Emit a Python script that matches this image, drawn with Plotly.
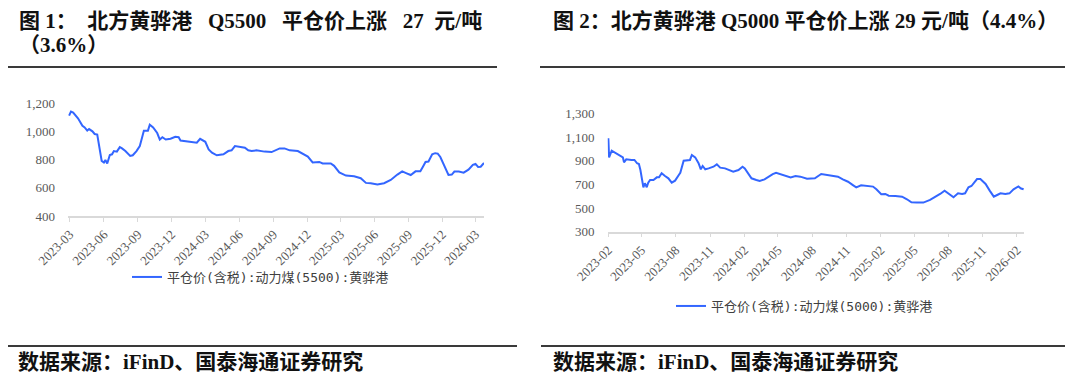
import plotly.graph_objects as go

# ---------------- data ----------------
left_dates = [
    "2023-02-27", "2023-03-04", "2023-03-10", "2023-03-23", "2023-04-04", "2023-04-10",
    "2023-04-17", "2023-04-22", "2023-05-01", "2023-05-07", "2023-05-14", "2023-05-19",
    "2023-05-23", "2023-05-26", "2023-06-01", "2023-06-05", "2023-06-10", "2023-06-17",
    "2023-06-23", "2023-06-28", "2023-07-06", "2023-07-14", "2023-07-20", "2023-07-29",
    "2023-08-11", "2023-08-18", "2023-08-28", "2023-09-06", "2023-09-12", "2023-09-17",
    "2023-09-28", "2023-10-03", "2023-10-12", "2023-10-23", "2023-10-30", "2023-11-06",
    "2023-11-15", "2023-11-28", "2023-12-11", "2023-12-20", "2023-12-25", "2024-01-07",
    "2024-01-25", "2024-02-07", "2024-02-16", "2024-03-01", "2024-03-10", "2024-03-19",
    "2024-04-01", "2024-04-19", "2024-05-02", "2024-05-11", "2024-05-20", "2024-06-07",
    "2024-06-16", "2024-06-25", "2024-07-04", "2024-07-17", "2024-07-26", "2024-08-08",
    "2024-08-27", "2024-09-18", "2024-10-01", "2024-10-15", "2024-11-06", "2024-11-19",
    "2024-12-03", "2024-12-16", "2025-01-03", "2025-01-12", "2025-02-03", "2025-02-12",
    "2025-02-26", "2025-03-16", "2025-04-07", "2025-04-25", "2025-05-09", "2025-05-22",
    "2025-06-09", "2025-06-27", "2025-07-15", "2025-08-02", "2025-08-15", "2025-08-27",
    "2025-09-07", "2025-09-20", "2025-10-03", "2025-10-10", "2025-10-17", "2025-10-25",
    "2025-11-04", "2025-11-12", "2025-11-19", "2025-11-26", "2025-12-09", "2025-12-18",
    "2025-12-27", "2026-01-03", "2026-01-15", "2026-01-28", "2026-02-10", "2026-02-22",
    "2026-03-01", "2026-03-08", "2026-03-15", "2026-03-24",
]
left_values = [
    1113, 1141, 1134, 1094, 1041, 1029,
    1006, 1017, 1001, 982, 978, 896,
    861, 791, 780, 798, 773, 833,
    838, 861, 857, 889, 880, 861,
    826, 831, 861, 896, 955, 1006,
    1006, 1048, 1029, 989, 943, 959,
    943, 948, 962, 959, 936, 931,
    920, 920, 948, 927, 873, 850,
    831, 838, 861, 866, 896, 889,
    885, 866, 861, 866, 861, 857,
    854, 880, 880, 866, 861, 843,
    822, 780, 784, 773, 773, 756,
    710, 687, 682, 668, 635, 633,
    624, 633, 656, 694, 717, 703,
    691, 717, 717, 750, 784, 787,
    838, 846, 843, 819, 745, 691,
    694, 715, 715, 708, 729, 763,
    770, 748, 750, 777,
]

right_dates = [
    "2023-02-01", "2023-02-03", "2023-02-10", "2023-02-19", "2023-03-03", "2023-03-12",
    "2023-03-15", "2023-03-21", "2023-04-04", "2023-04-12", "2023-04-19", "2023-04-24",
    "2023-04-28", "2023-05-04", "2023-05-06", "2023-05-10", "2023-05-15", "2023-05-19",
    "2023-05-24", "2023-06-02", "2023-06-11", "2023-06-17", "2023-06-24", "2023-07-03",
    "2023-07-12", "2023-07-21", "2023-07-30", "2023-08-09", "2023-08-13", "2023-08-22",
    "2023-09-02", "2023-09-08", "2023-09-13", "2023-09-22", "2023-10-01", "2023-10-07",
    "2023-10-12", "2023-10-19", "2023-10-28", "2023-11-10", "2023-11-19", "2023-11-28",
    "2023-12-11", "2023-12-20", "2024-01-02", "2024-01-16", "2024-01-27", "2024-02-02",
    "2024-02-11", "2024-02-20", "2024-03-04", "2024-03-13", "2024-03-26", "2024-04-08",
    "2024-04-17", "2024-04-26", "2024-05-09", "2024-05-22", "2024-06-04", "2024-06-17",
    "2024-06-30", "2024-07-18", "2024-08-08", "2024-08-25", "2024-09-08", "2024-09-21",
    "2024-10-09", "2024-10-22", "2024-11-05", "2024-11-18", "2024-11-27", "2024-12-10",
    "2024-12-24", "2025-01-11", "2025-01-20", "2025-02-02", "2025-02-13", "2025-02-22",
    "2025-03-12", "2025-03-30", "2025-04-12", "2025-04-24", "2025-05-08", "2025-05-26",
    "2025-06-13", "2025-06-27", "2025-07-10", "2025-07-22", "2025-08-03", "2025-08-15",
    "2025-08-27", "2025-09-07", "2025-09-15", "2025-09-24", "2025-10-02", "2025-10-17",
    "2025-10-26", "2025-11-09", "2025-11-20", "2025-12-01", "2025-12-10", "2025-12-19",
    "2026-01-01", "2026-01-12", "2026-01-23", "2026-02-05", "2026-02-12", "2026-02-19",
]
right_values = [
    1089, 928, 984, 967, 948, 928,
    886, 911, 906, 906, 878, 872,
    821, 722, 675, 709, 675, 714,
    737, 737, 759, 759, 793, 770,
    751, 714, 731, 779, 798, 900,
    906, 906, 948, 928, 878, 827,
    855, 827, 835, 849, 869, 841,
    835, 821, 807, 821, 849, 835,
    787, 751, 737, 728, 742, 770,
    787, 798, 787, 770, 759, 770,
    765, 748, 751, 787, 779, 770,
    765, 742, 722, 694, 675, 692,
    686, 681, 658, 616, 619, 604,
    602, 596, 574, 548, 546, 546,
    568, 591, 619, 647, 619, 591,
    624, 619, 624, 675, 686, 745,
    745, 703, 647, 596, 610, 624,
    619, 624, 658, 682, 665, 658,
]

left_yticks = [400, 600, 800, 1000, 1200]
right_yticks = [300, 500, 700, 900, 1100, 1300]

left_name = "平仓价(含税):动力煤(5500):黄骅港"
right_name = "平仓价(含税):动力煤(5000):黄骅港"
left_title_1 = "图 1：\u00a0\u00a0北方黄骅港 \u00a0\u00a0Q5500 \u00a0\u00a0平仓价上涨 \u00a0\u00a027 \u00a0元/吨"
left_title_2 = "（3.6%）"
right_title = "图 2：北方黄骅港 Q5000 平仓价上涨 29 元/吨（4.4%）"
source_text = "数据来源：iFinD、国泰海通证券研究"

# ---------------- layout helpers ----------------
# the page body adds an 8px margin, so the figure is 8px smaller and all
# target pixel positions (measured on the 1073x380 window) are shifted by 8
OFF = 8
W, H = 1073 - OFF, 380 - OFF


def fx(p):
    return (p - OFF) / W


def fy(p):
    return 1 - (p - OFF) / H


LINE_COLOR = "#3366ff"
AXIS_COLOR = "#d9d9d9"
TICK_FONT = dict(family="Liberation Serif, Times New Roman, serif", size=13, color="#595959")
TITLE_FONT = dict(family="Liberation Serif, Noto Sans CJK SC, serif", size=21, color="#111111", weight="bold")
LEG_FONT = dict(family="DejaVu Sans Mono, Noto Sans CJK SC, monospace", size=13, color="#404040")

fig = go.Figure()
fig.add_trace(go.Scatter(x=left_dates, y=left_values, mode="lines", name=left_name,
                         line=dict(color=LINE_COLOR, width=2), xaxis="x", yaxis="y",
                         legend="legend"))
fig.add_trace(go.Scatter(x=right_dates, y=right_values, mode="lines", name=right_name,
                         line=dict(color=LINE_COLOR, width=2), xaxis="x2", yaxis="y2",
                         legend="legend2"))

xcommon = dict(type="date", tickformat="%Y-%m", dtick="M3", tickangle=-45,
               showline=True, linecolor=AXIS_COLOR, linewidth=1.5, ticks="outside",
               ticklen=4, tickcolor=AXIS_COLOR, showgrid=False, zeroline=False,
               tickfont=TICK_FONT, fixedrange=True, automargin=False)
ycommon = dict(showline=False, showgrid=False, zeroline=False, ticks="",
               tickformat=",", tickfont=TICK_FONT, ticklabelstandoff=12, fixedrange=True,
               automargin=False)

fig.update_layout(
    width=W, height=H,
    margin=dict(l=0, r=0, t=0, b=0, pad=0, autoexpand=False),
    paper_bgcolor="white", plot_bgcolor="white",
    xaxis=dict(xcommon, domain=[fx(68), fx(484)], range=["2023-02-24", "2026-03-24"],
               tick0="2023-03-01", anchor="y"),
    yaxis=dict(ycommon, domain=[fy(216), fy(103.3)], range=[400, 1200],
               tickvals=left_yticks, anchor="x"),
    xaxis2=dict(xcommon, domain=[fx(607.6), fx(1024)], range=["2023-01-30", "2026-02-20"],
                tick0="2023-02-01", anchor="y2"),
    yaxis2=dict(ycommon, domain=[fy(231.7), fy(113.3)], range=[300, 1300],
                tickvals=right_yticks, anchor="x2"),
    legend=dict(x=fx(127), y=fy(277), xanchor="left", yanchor="middle",
                font=LEG_FONT, bgcolor="rgba(0,0,0,0)"),
    legend2=dict(x=fx(671), y=fy(306), xanchor="left", yanchor="middle",
                 font=LEG_FONT, bgcolor="rgba(0,0,0,0)"),
    showlegend=True,
)

ann = [
    dict(text=left_title_1, x=fx(17), y=fy(21)),
    dict(text=left_title_2, x=fx(17), y=fy(45)),
    dict(text=right_title, x=fx(551), y=fy(21)),
    dict(text=source_text, x=fx(16), y=fy(362)),
    dict(text=source_text, x=fx(551), y=fy(362)),
]
for a in ann:
    fig.add_annotation(xref="paper", yref="paper", xanchor="left", yanchor="middle",
                       showarrow=False, font=TITLE_FONT, **a)

rules = [(8, 497, 67), (540, 1068, 67), (8, 517, 346), (541, 1071, 346)]
for x0, x1, yy in rules:
    fig.add_shape(type="line", xref="paper", yref="paper", x0=fx(x0), x1=fx(x1),
                  y0=fy(yy), y1=fy(yy), line=dict(color="#3a3a3a", width=2))

fig.write_html("out.html")
